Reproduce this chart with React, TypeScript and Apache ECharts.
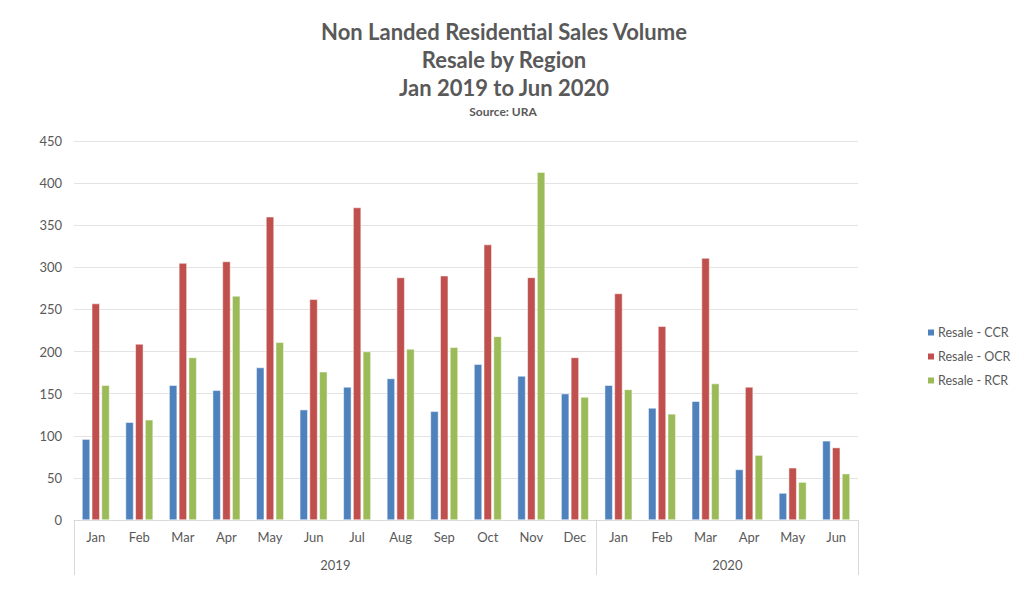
import React, { useEffect, useRef } from "react";
import * as echarts from "echarts";

const months = ["Jan", "Feb", "Mar", "Apr", "May", "Jun", "Jul", "Aug", "Sep", "Oct", "Nov", "Dec", "Jan", "Feb", "Mar", "Apr", "May", "Jun"];
const years = ["2019", "2020"];
const yearCenters = [6, 15];
const yearBounds = [0, 12, 18];
const ccr = [96, 116, 160, 154, 181, 131, 158, 168, 129, 185, 171, 150, 160, 133, 141, 60, 32, 94];
const ocr = [257, 209, 305, 307, 360, 262, 371, 288, 290, 327, 288, 193, 269, 230, 311, 158, 62, 86];
const rcr = [160, 119, 193, 266, 211, 176, 200, 203, 205, 218, 413, 146, 155, 126, 162, 77, 45, 55];
const seriesNames = ["Resale - CCR", "Resale - OCR", "Resale - RCR"];
const colors = ["#4F81BD", "#C0504D", "#9BBB59"];

const FONT = "Lato, 'Open Sans', sans-serif";

export default function App() {
  const ref = useRef<HTMLDivElement>(null);
  useEffect(() => {
    if (!ref.current) return;
    const chart = echarts.init(ref.current, undefined, { renderer: "svg" });
    const values = [ccr, ocr, rcr];
    chart.setOption({
      animation: false,
      backgroundColor: "#ffffff",
      textStyle: { fontFamily: FONT },
      title: [
        {
          text: "Non Landed Residential Sales Volume\nResale by Region\nJan 2019 to Jun 2020",
          left: 499,
          top: 12,
          textAlign: "center",
          textStyle: { fontFamily: FONT, fontSize: 22, fontWeight: "bold", color: "#595959", lineHeight: 28 },
        },
        {
          text: "Source: URA",
          left: 498,
          top: 100,
          textAlign: "center",
          textStyle: { fontFamily: FONT, fontSize: 12, fontWeight: "bold", color: "#595959" },
        },
      ],
      legend: {
        orient: "vertical",
        left: 921,
        top: 321,
        itemWidth: 8,
        itemHeight: 8,
        itemGap: 11,
        icon: "rect",
        textStyle: { fontFamily: FONT, fontSize: 12.5, color: "#595959", padding: [0, 0, 0, -2] },
        data: seriesNames,
      },
      grid: { left: 74, right: 166, top: 141, bottom: 72, containLabel: false },
      xAxis: [
        {
          type: "category",
          data: months,
          position: "bottom",
          axisLine: { show: true, lineStyle: { color: "#d9d9d9", width: 1 } },
          axisTick: { show: false },
          axisLabel: { color: "#595959", fontSize: 13, margin: 10, fontFamily: FONT },
        },
        {
          type: "value",
          min: 0,
          max: 18,
          position: "bottom",
          axisLine: { show: false },
          splitLine: { show: false },
          axisTick: {
            show: true,
            customValues: yearBounds,
            length: 55,
            lineStyle: { color: "#d9d9d9", width: 1 },
          },
          axisLabel: {
            show: true,
            customValues: yearCenters,
            formatter: (v: number) => years[yearCenters.indexOf(v)] ?? "",
            color: "#595959",
            fontSize: 13,
            margin: 38,
            fontFamily: FONT,
          },
        },
      ],
      yAxis: {
        type: "value",
        min: 0,
        max: 450,
        interval: 50,
        axisLine: { show: false },
        axisTick: { show: false },
        axisLabel: { color: "#595959", fontSize: 13, margin: 12, fontFamily: FONT },
        splitLine: { lineStyle: { color: "#e3e3e3", width: 1 } },
      },
      series: seriesNames.map((name, i) => ({
        name,
        type: "bar",
        xAxisIndex: 0,
        data: values[i],
        barWidth: 8,
        barGap: "22%",
        itemStyle: { color: colors[i], borderColor: "#ffffff", borderWidth: 0.5 },
      })),
    });
    return () => chart.dispose();
  }, []);
  return <div ref={ref} style={{ width: 1024, height: 592, position: "absolute", left: 0, top: 0 }} />;
}
